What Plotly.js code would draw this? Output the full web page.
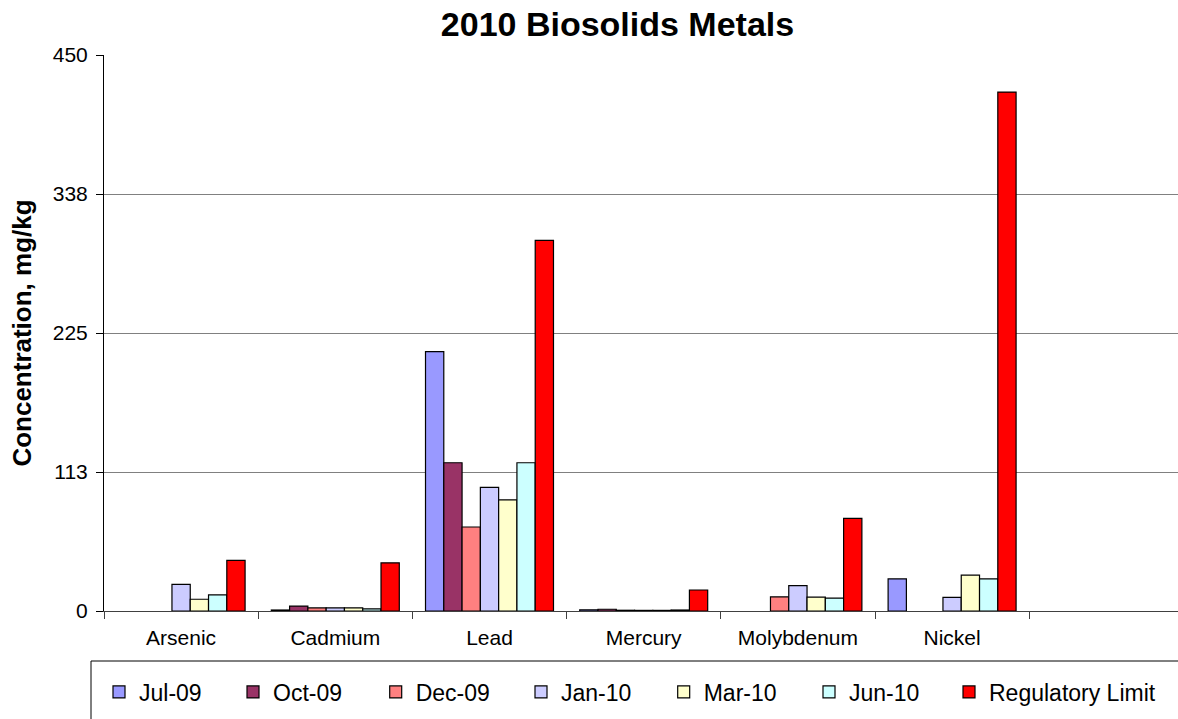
<!DOCTYPE html>
<html>
<head>
<meta charset="utf-8">
<script src="https://cdn.plot.ly/plotly-3.0.1.min.js"></script>
<style>
  html, body { margin: 0; padding: 0; background: #fff; }
  #chart { width: 1178px; height: 719px; }
</style>
</head>
<body>
<div id="chart"></div>
<script>
// ---- data ----
const categories = ["Arsenic", "Cadmium", "Lead", "Mercury", "Molybdenum", "Nickel"];
const seriesNames = ["Jul-09", "Oct-09", "Dec-09", "Jan-10", "Mar-10", "Jun-10", "Regulatory Limit"];
const jul09 = [null, 0.8, 210, 1.0, null, 26];
const oct09 = [null, 4, 120, 1.4, null, null];
const dec09 = [null, 2.5, 68, 0.6, 11.5, null];
const jan10 = [21.5, 2.5, 100, 0.5, 20.5, 11];
const mar10 = [9.5, 2.5, 90, 0.5, 11.2, 29];
const jun10 = [13, 1.8, 120, 0.8, 10.5, 26];
const regLimit = [41, 39, 300, 17, 75, 420];
const yTickVals = [0, 112.5, 225, 337.5, 450];
const yTickText = ["0", "113", "225", "338", "450"];

// ---- styling ----
const seriesValues = [jul09, oct09, dec09, jan10, mar10, jun10, regLimit];
const colors = ["#9999FF", "#993366", "#FF8080", "#CCCCFF", "#FFFFCC", "#CCFFFF", "#FF0000"];
const FONT = "Liberation Sans, Arial, Helvetica, sans-serif";

const W = 1178, H = 719;
const plotL = 104, plotR = 1178, plotT = 55, plotB = 611;
const pw = plotR - plotL, ph = plotB - plotT;
function px2x(p) { return (p - plotL) / pw; }
function px2y(p) { return (plotB - p) / ph; }

// legend text start positions (pixels) in the reference
const legendTextX = [136, 270, 412.7, 558, 700.7, 846, 986];

const traces = seriesNames.map((name, i) => ({
  type: "bar",
  name: name,
  x: categories,
  y: seriesValues[i],
  marker: { color: colors[i], line: { color: "#000000", width: 1.2 } },
  legend: i === 0 ? "legend" : "legend" + (i + 1),
  hoverinfo: "x+y+name"
}));

const layout = {
  width: W, height: H,
  margin: { l: plotL, r: W - plotR, t: plotT, b: H - plotB, pad: 0 },
  paper_bgcolor: "#ffffff",
  plot_bgcolor: "#ffffff",
  font: { family: FONT, color: "#000000" },
  title: {
    text: "<b>2010 Biosolids Metals</b>",
    font: { family: FONT, size: 34, color: "#000000" },
    x: 617.5 / W, xanchor: "center",
    y: 1 - 24 / H, yanchor: "middle"
  },
  barmode: "group",
  bargap: 0.17,
  bargroupgap: 0,
  xaxis: {
    type: "category",
    range: [-0.5, -0.5 + pw / 154.2],
    tickson: "boundaries",
    ticks: "outside",
    ticklen: 7,
    tickcolor: "#404040",
    tickwidth: 1,
    ticklabelstandoff: 8,
    showline: true,
    linecolor: "#404040",
    linewidth: 1,
    showgrid: false,
    zeroline: false,
    tickfont: { family: FONT, size: 21, color: "#000000" },
    fixedrange: true
  },
  yaxis: {
    range: [0, 450],
    tickmode: "array",
    tickvals: yTickVals,
    ticktext: yTickText,
    ticks: "outside",
    ticklen: 7,
    tickcolor: "#000000",
    ticklabelstandoff: 4,
    showline: true,
    linecolor: "#000000",
    linewidth: 1,
    showgrid: true,
    gridcolor: "#808080",
    gridwidth: 1,
    zeroline: false,
    tickfont: { family: FONT, size: 21, color: "#000000" },
    title: {
      text: "<b>Concentration, mg/kg</b>",
      font: { family: FONT, size: 26, color: "#000000" },
      standoff: 13
    },
    automargin: false,
    fixedrange: true
  },
  shapes: [{
    type: "rect", xref: "paper", yref: "paper",
    x0: px2x(91), x1: 1.05, y0: px2y(760), y1: px2y(661),
    line: { color: "#000000", width: 1 },
    fillcolor: "rgba(0,0,0,0)"
  }],
  showlegend: true
};

legendTextX.forEach((tx, i) => {
  const key = i === 0 ? "legend" : "legend" + (i + 1);
  layout[key] = {
    orientation: "h",
    x: px2x(tx - 37), xanchor: "left",
    y: px2y(692), yanchor: "middle",
    bgcolor: "rgba(0,0,0,0)",
    borderwidth: 0,
    font: { family: FONT, size: 23, color: "#000000" },
    itemclick: false, itemdoubleclick: false
  };
});

Plotly.newPlot("chart", traces, layout, { displayModeBar: false, staticPlot: true });
</script>
</body>
</html>
